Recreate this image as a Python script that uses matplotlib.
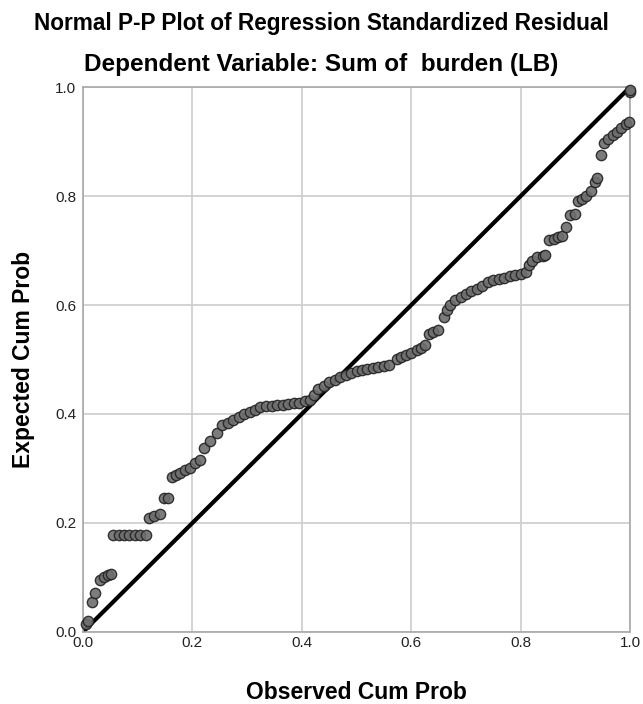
import matplotlib.pyplot as plt

# Observed vs expected cumulative probabilities
observed = [0.005, 0.009, 0.016, 0.022, 0.031, 0.038, 0.045, 0.052,
            0.055, 0.065, 0.075, 0.085, 0.095, 0.105, 0.115,
            0.120, 0.130, 0.140, 0.148, 0.155, 0.162, 0.170, 0.178,
            0.186, 0.195, 0.205, 0.214, 0.222, 0.232, 0.245, 0.255,
            0.265, 0.275, 0.285, 0.295, 0.305, 0.315, 0.323, 0.335,
            0.345, 0.355, 0.365, 0.375, 0.385, 0.395, 0.405, 0.415,
            0.422, 0.430, 0.440, 0.450, 0.460, 0.470, 0.480, 0.490,
            0.500, 0.510, 0.520, 0.530, 0.540, 0.550, 0.560, 0.574,
            0.582, 0.590, 0.600, 0.610, 0.618, 0.625, 0.632, 0.640,
            0.648, 0.660, 0.665, 0.670, 0.680, 0.690, 0.700, 0.710,
            0.720, 0.730, 0.740, 0.750, 0.760, 0.770, 0.780, 0.790,
            0.800, 0.810, 0.815, 0.820, 0.830, 0.840, 0.845, 0.852,
            0.860, 0.868, 0.876, 0.883, 0.890, 0.900, 0.905, 0.912,
            0.920, 0.928, 0.935, 0.940, 0.947, 0.952, 0.960, 0.968,
            0.976, 0.984, 0.992, 0.998, 0.999, 1.000]
expected = [0.015, 0.020, 0.055, 0.072, 0.095, 0.100, 0.104, 0.107,
            0.178, 0.178, 0.178, 0.178, 0.178, 0.178, 0.178,
            0.209, 0.212, 0.216, 0.246, 0.246, 0.284, 0.288, 0.292,
            0.297, 0.300, 0.310, 0.316, 0.338, 0.350, 0.365, 0.380,
            0.384, 0.389, 0.394, 0.400, 0.404, 0.408, 0.413, 0.414,
            0.414, 0.416, 0.417, 0.418, 0.420, 0.421, 0.423, 0.426,
            0.435, 0.445, 0.452, 0.458, 0.463, 0.467, 0.471, 0.475,
            0.478, 0.481, 0.483, 0.485, 0.486, 0.488, 0.490, 0.500,
            0.505, 0.508, 0.512, 0.518, 0.522, 0.527, 0.547, 0.550,
            0.555, 0.578, 0.590, 0.600, 0.610, 0.615, 0.620, 0.625,
            0.630, 0.635, 0.642, 0.646, 0.648, 0.650, 0.653, 0.655,
            0.657, 0.660, 0.673, 0.680, 0.688, 0.690, 0.692, 0.720,
            0.722, 0.725, 0.727, 0.743, 0.765, 0.767, 0.790, 0.795,
            0.800, 0.810, 0.825, 0.833, 0.875, 0.897, 0.905, 0.912,
            0.918, 0.925, 0.932, 0.936, 0.990, 0.995]

ticks = [0.0, 0.2, 0.4, 0.6, 0.8, 1.0]
tick_labels = ['0.0', '0.2', '0.4', '0.6', '0.8', '1.0']

plt.rcParams['font.family'] = ['Liberation Sans', 'DejaVu Sans']

fig = plt.figure(figsize=(6.43, 7.04), dpi=100)
ax = fig.add_axes([0.129, 0.1023, 0.851, 0.7741])

# Reference diagonal
ax.plot([0, 1], [0, 1], color='black', linewidth=3, zorder=2, solid_capstyle='butt')

# Points
ax.scatter(observed, expected, s=55, facecolor='#6e6e6e', edgecolor='#222222',
           linewidth=1.0, alpha=0.9, zorder=3, clip_on=False)

ax.set_xlim(0, 1)
ax.set_ylim(0, 1)
ax.set_xticks(ticks)
ax.set_xticklabels(tick_labels)
ax.set_yticks(ticks)
ax.set_yticklabels(tick_labels)
ax.tick_params(length=0, labelsize=11, colors='#222222')
ax.tick_params(axis='x', pad=3)
ax.tick_params(axis='y', pad=5)
ax.grid(True, color='#cccccc', linewidth=1.2)
ax.set_axisbelow(True)
for sp in ax.spines.values():
    sp.set_color('#a8a8a8')
    sp.set_linewidth(1.2)

ax.set_xlabel('Observed Cum Prob', fontsize=16.5, fontweight='bold', labelpad=22)
ax.set_ylabel('Expected Cum Prob', fontsize=16.5, fontweight='bold', labelpad=14)

fig.text(0.5, 0.967, 'Normal P-P Plot of Regression Standardized Residual',
         ha='center', va='center', fontsize=16.3, fontweight='bold')
fig.text(0.5, 0.908, 'Dependent Variable: Sum of  burden (LB)',
         ha='center', va='center', fontsize=17.5, fontweight='bold')

fig.savefig('out.png', dpi=100)
